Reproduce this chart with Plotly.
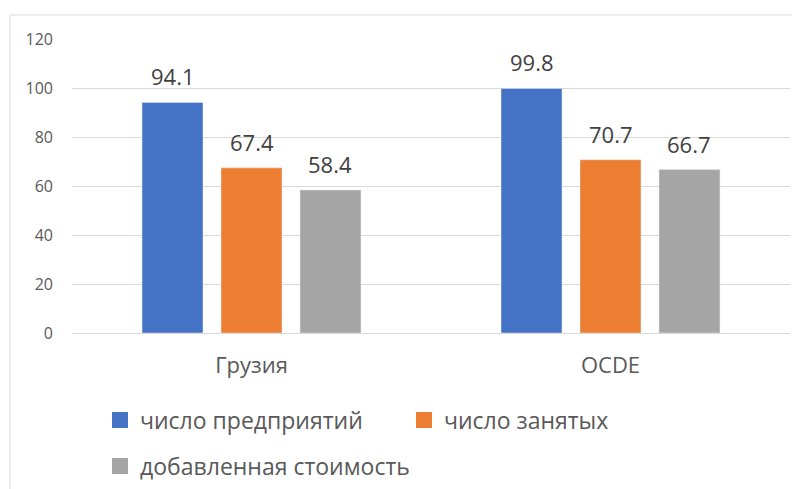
import plotly.graph_objects as go

categories = ["Грузия", "OCDE"]
series_names = ["число предприятий", "число занятых", "добавленная стоимость"]
enterprises = [94.1, 99.8]
employed = [67.4, 70.7]
value_added = [58.4, 66.7]
y_ticks = [0, 20, 40, 60, 80, 100, 120]

series_values = [enterprises, employed, value_added]
colors = ["#4472C4", "#ED7D31", "#A5A5A5"]
legend_ids = ["legend", "legend2", "legend3"]

# page body has an 8px margin, so the figure is 8px smaller and everything is
# laid out in coordinates shifted by 8px
W, H = 792, 481
ML, MR, MT, MB = 64, 10, 31, 156
plot_w = W - ML - MR
plot_h = H - MT - MB
BARGAP = 0.34
BARGROUPGAP = 0.228
FONT = "Open Sans"

fig = go.Figure()
for name, vals, col, lg in zip(series_names, series_values, colors, legend_ids):
    fig.add_trace(go.Bar(
        x=categories, y=vals, name=name, marker_color=col,
        showlegend=False, hoverinfo="skip",
    ))
    fig.add_trace(go.Scatter(
        x=[None], y=[None], mode="markers", name=name,
        marker=dict(symbol="square", size=16, color=col),
        legend=lg, showlegend=True,
    ))

# data labels
slot_px = (1 - BARGAP) / 3 * plot_w / len(categories)
for i, vals in enumerate(series_values):
    for cat, v in zip(categories, vals):
        fig.add_annotation(
            x=cat, y=v, text=f"{v:.1f}", showarrow=False,
            xanchor="center", yanchor="bottom",
            xshift=(i - 1) * slot_px, yshift=9,
            font=dict(family=FONT, size=22, color="#404040"),
        )

# chart frame
fig.add_shape(
    type="rect", xref="paper", yref="paper",
    x0=(2 - ML) / plot_w, x1=1.2,
    y0=-1.0, y1=(plot_h + MT - 7) / plot_h,
    line=dict(color="#D9D9D9", width=1), fillcolor="rgba(0,0,0,0)",
    layer="below",
)

legend_common = dict(
    orientation="h", xref="container", yref="container",
    xanchor="left", yanchor="middle",
    font=dict(family=FONT, size=23, color="#595959"),
    bgcolor="rgba(0,0,0,0)", itemwidth=30,
)

fig.update_layout(
    width=W, height=H,
    margin=dict(l=ML, r=MR, t=MT, b=MB),
    paper_bgcolor="white", plot_bgcolor="white",
    barmode="group", bargap=BARGAP, bargroupgap=BARGROUPGAP,
    font=dict(family=FONT, color="#595959"),
    legend=dict(x=92 / W, y=1 - 412 / H, **legend_common),
    legend2=dict(x=396 / W, y=1 - 412 / H, **legend_common),
    legend3=dict(x=92 / W, y=1 - 458 / H, **legend_common),
    xaxis=dict(
        showgrid=False, showline=False, ticks="", zeroline=False,
        tickfont=dict(family=FONT, size=22, color="#595959"),
        ticklabelstandoff=17,
    ),
    yaxis=dict(
        range=[0, 120], tickvals=y_ticks, showgrid=True,
        gridcolor="#D9D9D9", gridwidth=1,
        zeroline=True, zerolinecolor="#D9D9D9", zerolinewidth=1,
        showline=False, ticks="",
        tickfont=dict(family=FONT, size=16, color="#595959"),
        ticklabelstandoff=18,
    ),
)

fig.write_html("out.html")
